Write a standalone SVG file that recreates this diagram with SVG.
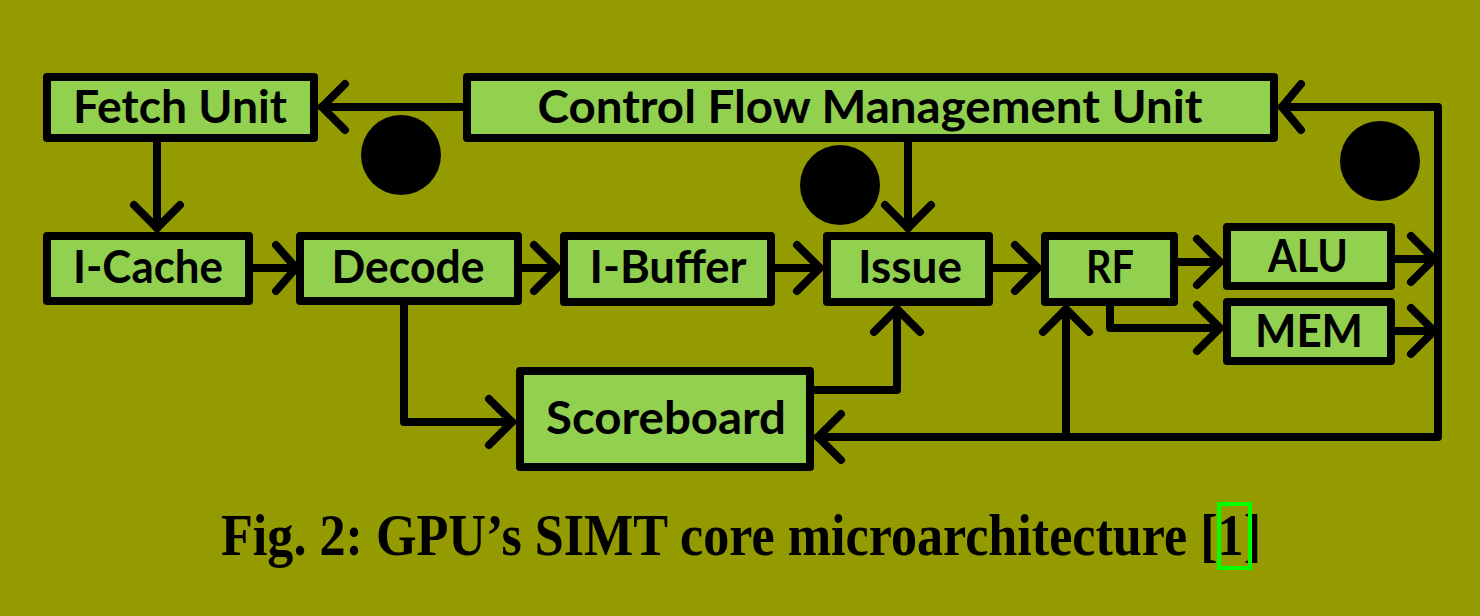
<svg xmlns="http://www.w3.org/2000/svg" width="1480" height="616" viewBox="0 0 1480 616">
  <style>
    .box { fill: #92d050; stroke: #000; stroke-width: 8; stroke-linejoin: round; }
    .lbl { font-family: Lato, "Open Sans", sans-serif; font-weight: bold; font-size: 45px; fill: #000; text-anchor: middle; }
    .wire { fill: none; stroke: #000; stroke-width: 8; stroke-linejoin: round; stroke-linecap: round; }
    .head { fill: none; stroke: #000; stroke-width: 8; stroke-linejoin: miter; stroke-linecap: round; }
    .dot { fill: #000; }
    .cap { font-family: "Liberation Serif", "Times New Roman", serif; font-weight: bold; font-size: 60px; fill: #000; }
  </style>
  <rect width="1480" height="616" fill="#939b00"/>

  <!-- connectors -->
  <g id="connectors">
    <!-- CFMU -> Fetch Unit -->
    <path class="wire" d="M463 107 H322"/>
    <path class="head" d="M345 84 L322 107 L345 130"/>
    <!-- Fetch Unit -> I-Cache -->
    <path class="wire" d="M157 142 V228"/>
    <path class="head" d="M134 205 L157 228 L180 205"/>
    <!-- I-Cache -> Decode -->
    <path class="wire" d="M253 268 H292"/>
    <path class="head" d="M276 245 L296 268 L276 291"/>
    <!-- Decode -> I-Buffer -->
    <path class="wire" d="M522 268 H556"/>
    <path class="head" d="M534 245 L557 268 L534 291"/>
    <!-- I-Buffer -> Issue -->
    <path class="wire" d="M775 268 H819"/>
    <path class="head" d="M797 245 L820 268 L797 291"/>
    <!-- CFMU -> Issue -->
    <path class="wire" d="M908 142 V228"/>
    <path class="head" d="M885 205 L908 228 L931 205"/>
    <!-- Issue -> RF -->
    <path class="wire" d="M993 268 H1037"/>
    <path class="head" d="M1015 245 L1038 268 L1015 291"/>
    <!-- RF -> ALU -->
    <path class="wire" d="M1178 262 H1219"/>
    <path class="head" d="M1197 239 L1220 262 L1197 285"/>
    <!-- RF -> MEM -->
    <path class="wire" d="M1110 306 V328 H1219"/>
    <path class="head" d="M1197 305 L1220 328 L1197 351"/>
    <!-- ALU / MEM -> writeback bus -->
    <path class="wire" d="M1395 259 H1434"/>
    <path class="head" d="M1411 236 L1434 259 L1411 282"/>
    <path class="wire" d="M1395 331 H1434"/>
    <path class="head" d="M1411 308 L1434 331 L1411 354"/>
    <!-- writeback bus -> CFMU, Scoreboard, RF -->
    <path class="wire" d="M1282 107 H1438 V437 H818"/>
    <path class="head" d="M1301 84 L1282 107 L1301 130"/>
    <path class="head" d="M841 414 L818 437 L841 460"/>
    <path class="wire" d="M1066 437 V310"/>
    <path class="head" d="M1043 332 L1066 309 L1089 332"/>
    <!-- Decode -> Scoreboard -->
    <path class="wire" d="M404 305 V422 H512"/>
    <path class="head" d="M489 399 L512 422 L489 445"/>
    <!-- Scoreboard -> Issue -->
    <path class="wire" d="M814 390 H897 V310"/>
    <path class="head" d="M874 332 L897 309 L920 332"/>
  </g>

  <!-- nodes -->
  <g id="fetch-unit">
    <rect class="box" x="47" y="77" width="267" height="61"/>
    <text class="lbl" x="180" y="123" textLength="214" lengthAdjust="spacingAndGlyphs">Fetch Unit</text>
  </g>
  <g id="cfmu">
    <rect class="box" x="467" y="77" width="807" height="61"/>
    <text class="lbl" x="870" y="123" textLength="665" lengthAdjust="spacingAndGlyphs">Control Flow Management Unit</text>
  </g>
  <g id="i-cache">
    <rect class="box" x="47" y="236" width="202" height="65"/>
    <text class="lbl" x="148" y="283" textLength="150" lengthAdjust="spacingAndGlyphs">I-Cache</text>
  </g>
  <g id="decode">
    <rect class="box" x="300" y="236" width="218" height="65"/>
    <text class="lbl" x="408" y="283" textLength="153" lengthAdjust="spacingAndGlyphs">Decode</text>
  </g>
  <g id="i-buffer">
    <rect class="box" x="564" y="236" width="207" height="66"/>
    <text class="lbl" x="668" y="283" textLength="157" lengthAdjust="spacingAndGlyphs">I-Buffer</text>
  </g>
  <g id="issue">
    <rect class="box" x="827" y="236" width="162" height="66"/>
    <text class="lbl" x="910" y="283" textLength="104" lengthAdjust="spacingAndGlyphs">Issue</text>
  </g>
  <g id="rf">
    <rect class="box" x="1045" y="236" width="129" height="66"/>
    <text class="lbl" x="1110" y="283" textLength="48" lengthAdjust="spacingAndGlyphs">RF</text>
  </g>
  <g id="alu">
    <rect class="box" x="1227" y="227" width="164" height="59"/>
    <text class="lbl" x="1308" y="272" textLength="80" lengthAdjust="spacingAndGlyphs">ALU</text>
  </g>
  <g id="mem">
    <rect class="box" x="1227" y="302" width="164" height="59"/>
    <text class="lbl" x="1309" y="347" textLength="108" lengthAdjust="spacingAndGlyphs">MEM</text>
  </g>
  <g id="scoreboard">
    <rect class="box" x="520" y="371" width="290" height="96"/>
    <text class="lbl" x="666" y="434" textLength="240" lengthAdjust="spacingAndGlyphs">Scoreboard</text>
  </g>

  <!-- stage markers -->
  <g id="markers">
    <circle class="dot" cx="401" cy="155" r="40"/>
    <circle class="dot" cx="840" cy="185" r="40"/>
    <circle class="dot" cx="1380" cy="161" r="40"/>
  </g>

  <!-- caption -->
  <g id="caption">
    <text class="cap" x="221" y="555" textLength="1040" lengthAdjust="spacingAndGlyphs">Fig. 2: GPU’s SIMT core microarchitecture [1]</text>
    <rect x="1219" y="504" width="31" height="64" fill="none" stroke="#00ff00" stroke-width="4"/>
  </g>
</svg>
